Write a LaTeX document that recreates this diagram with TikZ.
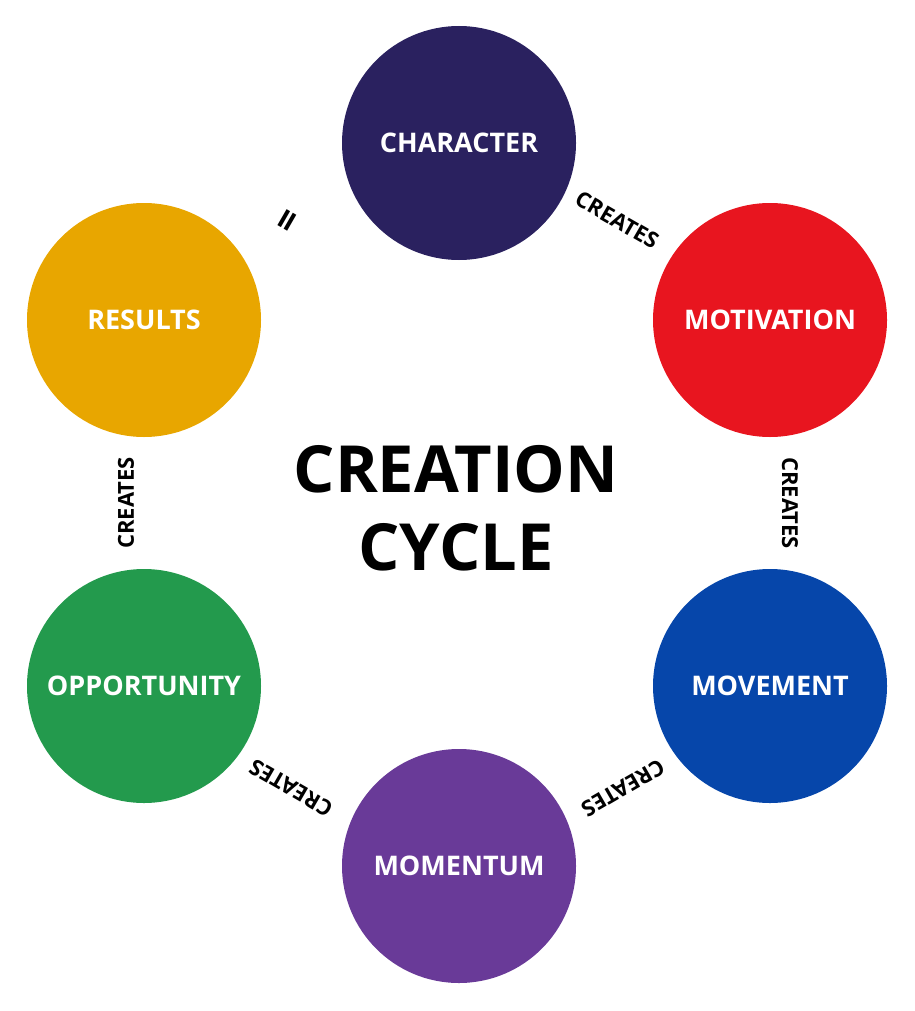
\documentclass[tikz,border=0pt]{standalone}
\usepackage{fontspec}
\setmainfont{Open Sans}
\begin{document}
\begin{tikzpicture}[x=1pt,y=-1pt,
  c/.style={circle,minimum size=234pt,inner sep=0pt,text=white,font=\bfseries\fontsize{27}{31}\selectfont},
  lab/.style={font=\bfseries\fontsize{22}{26}\selectfont,text=black}]
\useasboundingbox (0,0) rectangle (914,1011);
\definecolor{cchar}{HTML}{2A215F}
\definecolor{cmot}{HTML}{E8151F}
\definecolor{cmov}{HTML}{0646AA}
\definecolor{cmom}{HTML}{693A98}
\definecolor{copp}{HTML}{239A4D}
\definecolor{cres}{HTML}{E8A600}
\node[c,fill=cchar] (char) at (459,143) {CHARACTER};
\node[c,fill=cmot] (mot) at (770,320) {MOTIVATION};
\node[c,fill=cmov] (mov) at (770,686) {MOVEMENT};
\node[c,fill=cmom] (mom) at (459,866) {MOMENTUM};
\node[c,fill=copp] (opp) at (144,686) {OPPORTUNITY};
\node[c,fill=cres] (res) at (144,320) {RESULTS};
\node[align=center,font=\bfseries\fontsize{65}{78}\selectfont] (title) at (456,508) {CREATION\\CYCLE};
\node[lab,rotate=-30] (l1) at (617,220) {CREATES};
\node[lab,rotate=-90] (l2) at (790,503) {CREATES};
\node[lab,rotate=210] (l3) at (623,788) {CREATES};
\node[lab,rotate=150] (l4) at (291,788) {CREATES};
\node[lab,rotate=90] (l5) at (126,503) {CREATES};
\node[font=\bfseries\fontsize{38}{42}\selectfont,rotate=60] (eq) at (291,222) {=};
\end{tikzpicture}
\end{document}
